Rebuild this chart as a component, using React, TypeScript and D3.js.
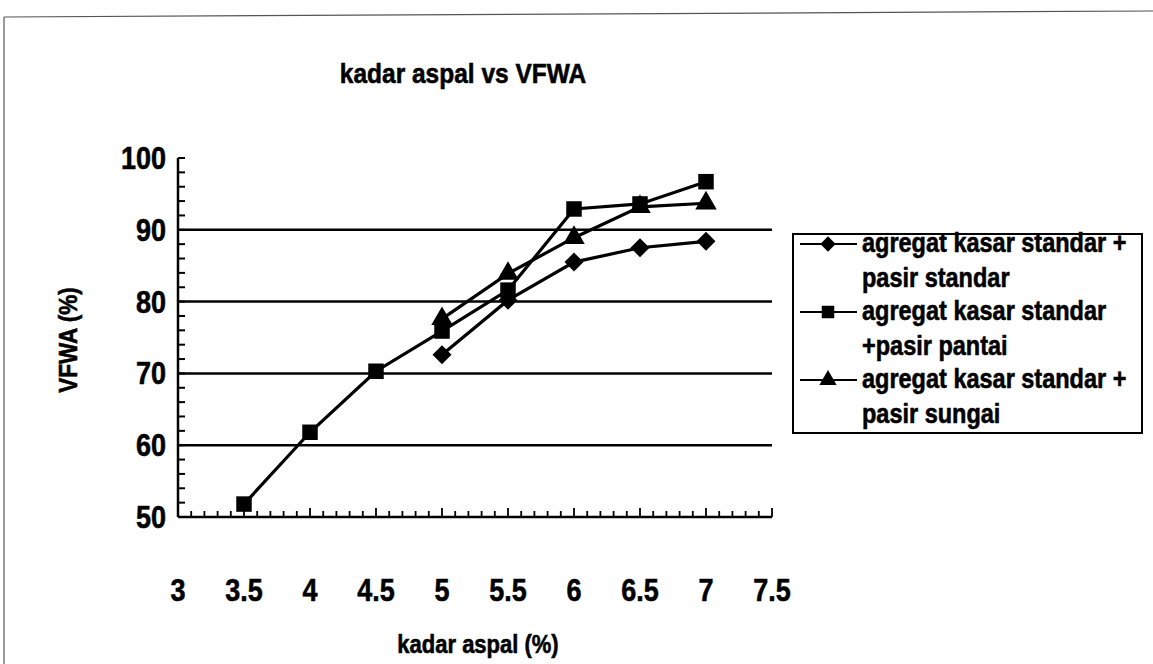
import React from 'react'
import * as d3 from 'd3'
import { scaleLinear, line, range, symbol, symbolSquare, symbolTriangle } from 'd3'

const xTicks = [3, 3.5, 4, 4.5, 5, 5.5, 6, 6.5, 7, 7.5]
const yTicks = [50, 60, 70, 80, 90, 100]

const kadarPantai = [3.5, 4, 4.5, 5, 5.5, 6, 6.5, 7]
const vfwaPantai = [51.8, 61.8, 70.3, 75.9, 81.6, 92.9, 93.6, 96.7]

const kadarStandar = [5, 5.5, 6, 6.5, 7]
const vfwaStandar = [72.6, 80.2, 85.5, 87.5, 88.4]

const kadarSungai = [5, 5.5, 6, 6.5, 7]
const vfwaSungai = [77.6, 83.9, 88.9, 93.2, 93.7]

const legendLines = [
    ['agregat kasar standar +', 'pasir standar'],
    ['agregat kasar standar', '+pasir pantai'],
    ['agregat kasar standar +', 'pasir sungai'],
]

const font = '"Liberation Sans", Arial, sans-serif'
const diamond = (d3 as any).symbolDiamond2 || d3.symbolDiamond

// scanned text looks a bit stretched vertically and heavier
function T({ x, y, size, anchor = 'start', rotate = 0, children }: any) {
    return (
        <text
            transform={`translate(${x},${y}) rotate(${rotate}) scale(1,1.15)`}
            textAnchor={anchor}
            fontFamily={font}
            fontWeight="bold"
            fontSize={size}
            fill="#000"
            stroke="#000"
            strokeWidth={0.5}
        >
            {children}
        </text>
    )
}

export default function App() {
    const width = 1153, height = 664
    const x = scaleLinear().domain([3, 7.5]).range([178, 772])
    const y = scaleLinear().domain([50, 100]).range([517, 158])

    const series = [
        { xs: kadarStandar, ys: vfwaStandar, shape: diamond, size: 230 },
        { xs: kadarPantai, ys: vfwaPantai, shape: symbolSquare, size: 240 },
        { xs: kadarSungai, ys: vfwaSungai, shape: symbolTriangle, size: 200 },
    ]

    const path = line<number>()

    // minor ticks
    const yMinor = range(50, 100.01, 2)
    const xMinor = range(30, 75.01, 1).map(d => d / 10)

    return (
        <svg width={width} height={height} style={{ position: 'absolute', left: 0, top: 0, background: '#fff' }}>
            <rect width={width} height={height} fill="#fff" />
            {/* scanned frame */}
            <line x1={4} y1={17} x2={1153} y2={11} stroke="#555" strokeWidth={1.2} />
            <line x1={4} y1={17} x2={4} y2={664} stroke="#555" strokeWidth={1.2} />

            <T x={463} y={83} anchor="middle" size={24.5}>kadar aspal vs VFWA</T>

            {/* grid lines */}
            {[60, 70, 80, 90].map(v => (
                <line key={v} x1={x(3)} x2={x(7.5)} y1={y(v)} y2={y(v)} stroke="#000" strokeWidth={2.5} />
            ))}

            {/* axes */}
            <line x1={x(3)} x2={x(3)} y1={y(100)} y2={y(50)} stroke="#000" strokeWidth={2.5} />
            <line x1={x(3)} x2={x(7.5)} y1={y(50)} y2={y(50)} stroke="#000" strokeWidth={2.5} />
            {yMinor.map(v => (
                <line key={'ym' + v} x1={x(3)} x2={x(3) + 7} y1={y(v)} y2={y(v)} stroke="#000" strokeWidth={2} />
            ))}
            {xMinor.map(v => {
                const major = Math.abs(v * 2 - Math.round(v * 2)) < 1e-6
                return (
                    <line key={'xm' + v} x1={x(v)} x2={x(v)} y1={y(50)} y2={y(50) - (major ? 9 : 6)} stroke="#000" strokeWidth={1.8} />
                )
            })}

            {yTicks.map(v => (
                <T key={'yl' + v} x={166} y={y(v) + 11} anchor="end" size={27}>{v}</T>
            ))}
            {xTicks.map(v => (
                <T key={'xl' + v} x={x(v)} y={601} anchor="middle" size={27}>{v}</T>
            ))}

            <T x={77} y={340} anchor="middle" size={22.5} rotate={-90}>VFWA (%)</T>
            <T x={478} y={653} anchor="middle" size={22}>kadar aspal (%)</T>

            {/* series */}
            {series.map((s, i) => (
                <g key={'s' + i}>
                    <path d={path(s.xs.map((d, j) => [x(d), y(s.ys[j])]) as any) || ''} fill="none" stroke="#000" strokeWidth={3.2} />
                    {s.xs.map((d, j) => (
                        <path key={j} transform={`translate(${x(d)},${y(s.ys[j])})`} d={symbol(s.shape, s.size)() || ''} fill="#000" />
                    ))}
                </g>
            ))}

            {/* legend */}
            <rect x={793} y={234} width={349} height={199} fill="#fff" stroke="#000" strokeWidth={2} />
            {series.map((s, i) => {
                const top = 252 + i * 68
                return (
                    <g key={'l' + i}>
                        <line x1={800} x2={857} y1={top - 8} y2={top - 8} stroke="#000" strokeWidth={2} />
                        <path transform={`translate(828,${top - 8})`} d={symbol(s.shape, s.size * 0.65)() || ''} fill="#000" />
                        <T x={862} y={top} size={23.5}>{legendLines[i][0]}</T>
                        <T x={862} y={top + 35} size={23.5}>{legendLines[i][1]}</T>
                    </g>
                )
            })}
        </svg>
    )
}
